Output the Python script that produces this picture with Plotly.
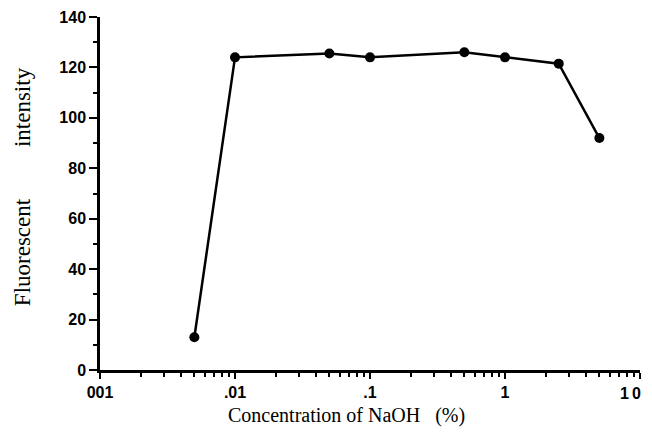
import plotly.graph_objects as go

naoh_conc = [0.005, 0.01, 0.05, 0.1, 0.5, 1, 2.5, 5]
fluorescence = [13, 124, 125.5, 124, 126, 124, 121.5, 92]

x_tickvals = [0.001, 0.01, 0.1, 1, 10]
x_ticktext = ["001", ".01", ".1", "1", "1\u20090"]
y_tickvals = [0, 20, 40, 60, 80, 100, 120, 140]

x_minor = [m * d for d in [0.001, 0.01, 0.1, 1] for m in range(2, 10)]
y_minor = [10, 30, 50, 70, 90, 110, 130]

x_title = "Concentration of NaOH\u00a0\u00a0\u00a0(%)"
y_title = "Fluorescent" + "\u00a0" * 9 + "intensity"

fig = go.Figure()
fig.add_trace(go.Scatter(
    x=naoh_conc, y=fluorescence, mode="lines+markers",
    line=dict(color="black", width=2.5),
    marker=dict(color="black", size=10),
    showlegend=False, cliponaxis=False,
))

tickfont = dict(family="Liberation Sans, Arial", size=16, color="black", weight="bold")

# last tick label (at the right edge) drawn as an annotation so it stays inside the page
last_label = x_ticktext[-1]
shown_ticktext = x_ticktext[:-1] + [""]

fig.update_layout(
    width=636, height=427,
    margin=dict(l=92, r=4, t=9, b=65),
    paper_bgcolor="white", plot_bgcolor="white",
    xaxis=dict(
        type="log", range=[-3, 1], automargin=False,
        tickvals=x_tickvals, ticktext=shown_ticktext,
        ticks="outside", ticklen=6, tickwidth=2, tickcolor="black",
        minor=dict(tickvals=x_minor, ticks="outside", ticklen=4, tickwidth=2, tickcolor="black", showgrid=False),
        showline=True, linecolor="black", linewidth=2.5,
        showgrid=False, zeroline=False,
        tickfont=tickfont,
    ),
    yaxis=dict(
        range=[0, 140], automargin=False,
        tickvals=y_tickvals,
        ticks="outside", ticklen=8, tickwidth=2, tickcolor="black",
        minor=dict(tickvals=y_minor, ticks="outside", ticklen=4, tickwidth=2, tickcolor="black", showgrid=False),
        showline=True, linecolor="black", linewidth=2.5,
        showgrid=False, zeroline=False,
        tickfont=tickfont,
    ),
    annotations=[
        dict(text=last_label, xref="x", yref="paper", x=1, y=0,
             xanchor="right", yanchor="middle", xshift=3, yshift=-23, showarrow=False,
             font=tickfont),
        dict(text=x_title, xref="paper", yref="paper", x=0.456, y=0,
             xanchor="center", yanchor="middle", yshift=-45, showarrow=False,
             font=dict(family="Liberation Serif, Times New Roman", size=20, color="black")),
        dict(text=y_title, xref="paper", yref="paper", x=0, y=0.518,
             xanchor="center", yanchor="middle", xshift=-78, textangle=-90, showarrow=False,
             font=dict(family="Liberation Serif, Times New Roman", size=23, color="black")),
    ],
)

fig.write_html("out.html")
